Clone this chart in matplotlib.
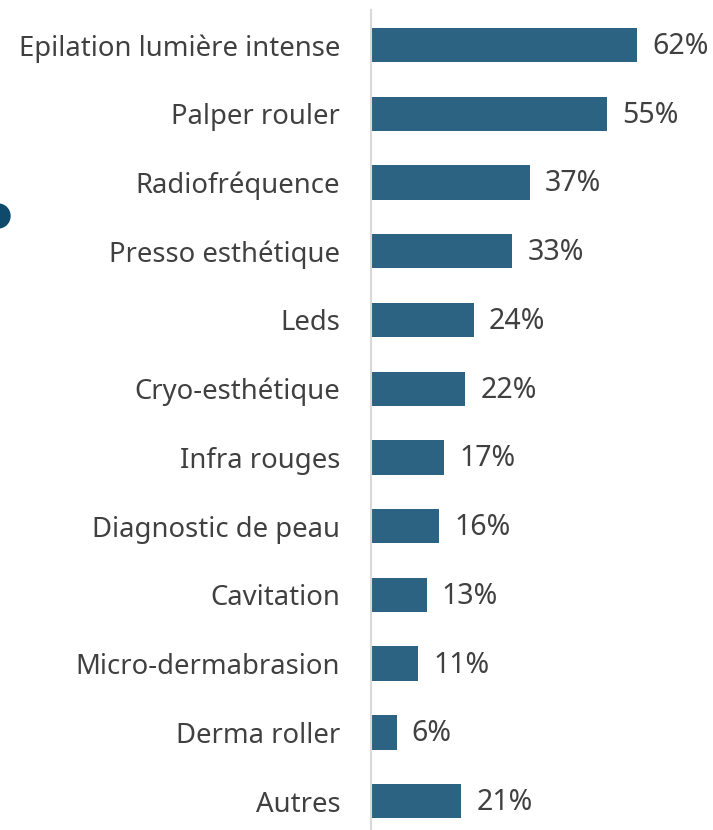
import matplotlib.pyplot as plt
from matplotlib.patches import Ellipse

categories = ['Epilation lumière intense', 'Palper rouler', 'Radiofréquence',
              'Presso esthétique', 'Leds', 'Cryo-esthétique', 'Infra rouges',
              'Diagnostic de peau', 'Cavitation', 'Micro-dermabrasion',
              'Derma roller', 'Autres']
values = [62, 55, 37, 33, 24, 22, 17, 16, 13, 11, 6, 21]

bar_color = '#2C6383'
text_color = '#404040'

plt.rcParams['font.family'] = ['Noto Sans', 'DejaVu Sans']

fig = plt.figure(figsize=(7.13, 8.30), dpi=100)
ax = fig.add_axes([0.520, 0.0, 0.480, 0.988])

pos = list(range(len(categories)))
ax.barh(pos, values, height=0.5, color=bar_color)
ax.set_ylim(len(categories) - 1 + 0.42, -0.51)
ax.set_xlim(0, 79.7)

for p, v in zip(pos, values):
    ax.annotate(f'{v}%', (v, p), xytext=(11, -1), textcoords='offset points',
                va='center', ha='left', fontsize=20.5, color=text_color)

ax.set_yticks(pos)
ax.set_yticklabels(categories, fontsize=19.8, color=text_color)
ax.tick_params(axis='y', length=0, pad=22)
ax.set_xticks([])
for s in ['top', 'right', 'bottom']:
    ax.spines[s].set_visible(False)
ax.spines['left'].set_color('#D9D9D9')
ax.spines['left'].set_linewidth(1.5)

# partial dark marker at left edge
fig.patches.append(Ellipse((-2 / 713, 1 - 216 / 830), 24 / 713, 24 / 830,
                           transform=fig.transFigure, color='#0E4A6B', figure=fig))

fig.savefig('out.png', dpi=100)
